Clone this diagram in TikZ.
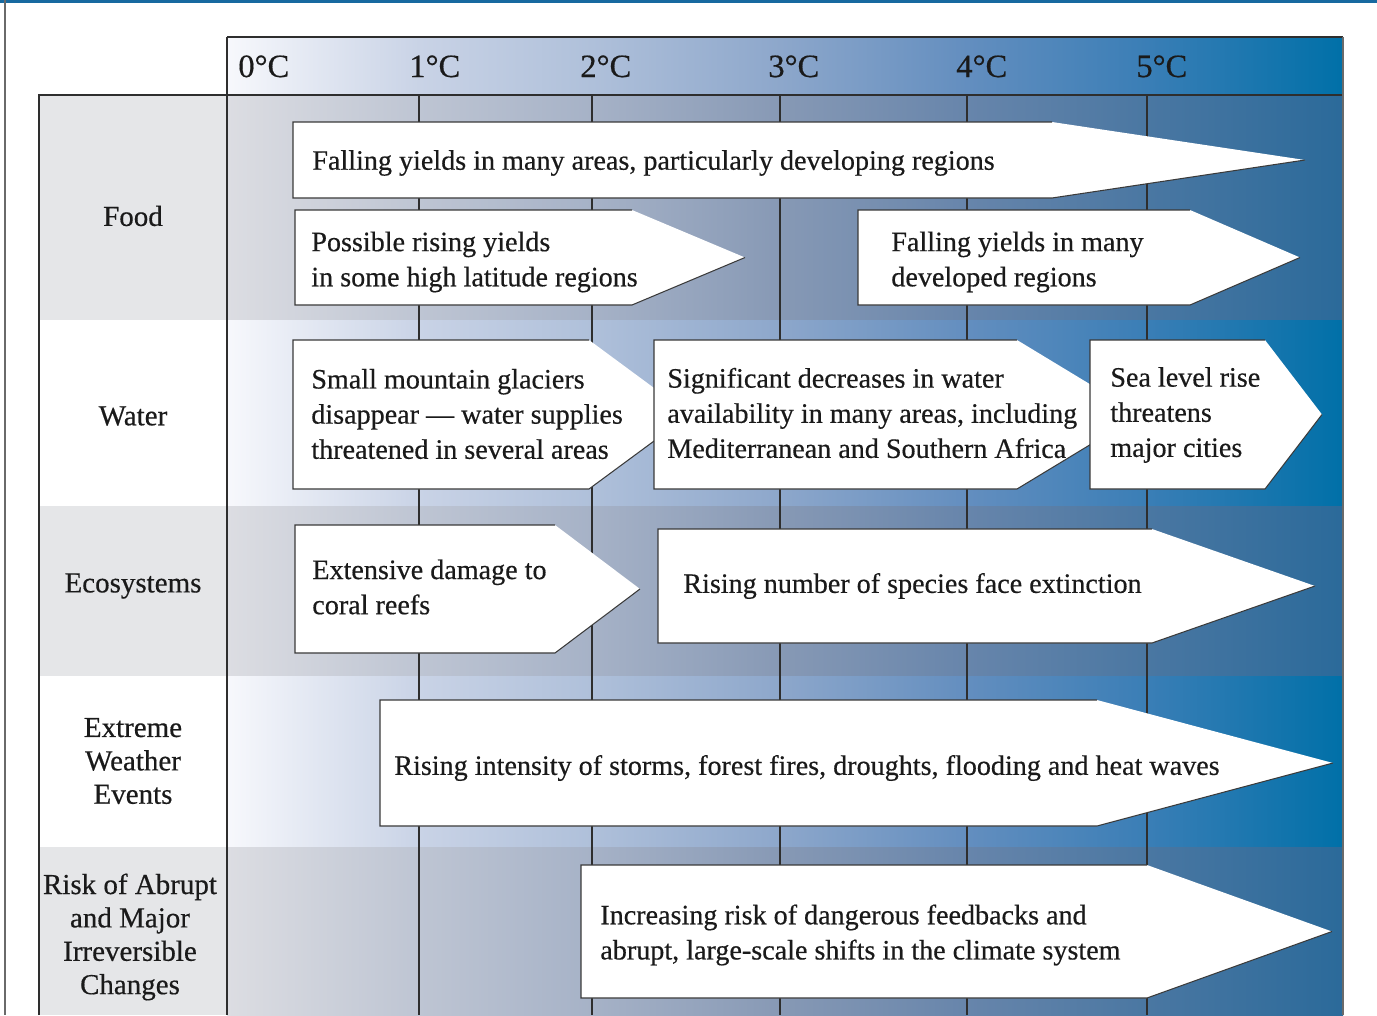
\documentclass[tikz,border=0pt]{standalone}
\usepackage{fontspec}
\setmainfont{Liberation Serif}[FakeBold=0.45]

\definecolor{inkblack}{HTML}{1A1A1A}
\definecolor{gridgray}{HTML}{2E2E2E}
\definecolor{edgegray}{HTML}{3A3A3A}
\definecolor{framegray}{HTML}{6A6A6A}
\definecolor{topblue}{HTML}{1769A0}
\definecolor{labelgray}{HTML}{E5E6E8}
% light band (header and white rows)
\definecolor{bandA}{HTML}{F7F8FC}
\definecolor{bandB}{HTML}{C9D3E6}
\definecolor{bandC}{HTML}{AFC0DA}
\definecolor{bandD}{HTML}{8DA7CB}
\definecolor{bandE}{HTML}{638EBF}
\definecolor{bandF}{HTML}{3A7EB6}
\definecolor{bandG}{HTML}{0070A8}
% grey band
\definecolor{greyA}{HTML}{DCDDE2}
\definecolor{greyB}{HTML}{BEC5D3}
\definecolor{greyC}{HTML}{A6B2C7}
\definecolor{greyD}{HTML}{8799B5}
\definecolor{greyE}{HTML}{6785AB}
\definecolor{greyF}{HTML}{4A77A2}
\definecolor{greyG}{HTML}{2B6A9A}

\pgfdeclarehorizontalshading{blueband}{100bp}{color(0bp)=(bandA); color(25bp)=(bandA);
  color(33.6bp)=(bandB); color(41.35bp)=(bandC); color(49.78bp)=(bandD);
  color(58.15bp)=(bandE); color(66.22bp)=(bandF); color(75bp)=(bandG); color(100bp)=(bandG)}
\pgfdeclarehorizontalshading{greyband}{100bp}{color(0bp)=(greyA); color(25bp)=(greyA);
  color(33.6bp)=(greyB); color(41.35bp)=(greyC); color(49.78bp)=(greyD);
  color(58.15bp)=(greyE); color(66.22bp)=(greyF); color(75bp)=(greyG); color(100bp)=(greyG)}

\tikzset{
  gridline/.style={draw=gridgray, line width=0.7pt},
  arrowline/.style={draw=edgegray, line width=0.6pt},
  arrowtext/.style={anchor=west, align=left, inner sep=0pt,
    font=\fontsize{16}{20}\selectfont, text=inkblack},
  rowlabel/.style={align=center, inner sep=0pt,
    font=\fontsize{16.5}{19}\selectfont, text=inkblack},
  templabel/.style={anchor=base west, inner sep=0pt,
    font=\fontsize{18.5}{22}\selectfont, text=inkblack}
}

% name, left x, head x, top y, bottom y, tip x, text position, text
\newcommand{\heatarrow}[8]{%
  \fill[white] (#2,#4) -- (#3,#4) -- (#6,{(#4+#5)/2}) -- (#3,#5) -- (#2,#5) -- cycle;
  \draw[arrowline] (#3,#4) -- (#2,#4) -- (#2,#5) -- (#3,#5) -- (#6,{(#4+#5)/2});
  \node[arrowtext] (#1) at (#7) {#8};
}

\begin{document}
\begin{tikzpicture}[x=0.02cm, y=-0.02cm]
    \useasboundingbox (0,0) rectangle (1377,1015);
    \fill[white] (0,0) rectangle (1377,1015);
    \fill[topblue] (0,0) rectangle (1377,2.5);
    \draw[framegray, line width=1.1pt] (5,0) -- (5,1015);

    % label column
    \fill[labelgray] (39,95) rectangle (227,320);
    \fill[labelgray] (39,506) rectangle (227,676);
    \fill[labelgray] (39,847) rectangle (227,1015);

    % bands
    \shade[shading=blueband] (227,37) rectangle (1343,95);
    \shade[shading=greyband] (227,95) rectangle (1343,320);
    \shade[shading=blueband] (227,320) rectangle (1343,506);
    \shade[shading=greyband] (227,506) rectangle (1343,676);
    \shade[shading=blueband] (227,676) rectangle (1343,847);
    \shade[shading=greyband] (227,847) rectangle (1343,1015);

    \foreach \x in {419,592,780,967,1147}
        \draw[gridline] (\x,95) -- (\x,1015);
    \draw[gridline] (227,37) -- (227,1015);
    \draw[gridline] (39,1015) -- (39,95) -- (1343,95);
    \draw[gridline] (227,37) -- (1343,37);
    \draw[framegray, line width=0.8pt] (1343,37) -- (1343,1015);

    \foreach \t/\x in {0/238,1/409,2/580,3/768,4/956,5/1136}
        \node[templabel] (t\t) at (\x,77) {\t°C};

    \node[rowlabel] (food) at (133,216) {Food};
    \node[rowlabel] (water) at (133,416) {Water};
    \node[rowlabel] (eco) at (133,586) {Ecosystems};
    \node[rowlabel] (weather) at (133,761) {Extreme\\Weather\\Events};
    \node[rowlabel] (risk) at (130,937) {Risk of Abrupt\\and Major\\Irreversible\\Changes};

    \heatarrow{foodA}{293}{1052}{122}{198}{1305}{312,163}{Falling yields in many areas, particularly developing regions}
    \heatarrow{foodB}{295}{632}{210}{305}{745}{311,262}{Possible rising yields\\in some high latitude regions}
    \heatarrow{foodC}{858}{1190}{210}{305}{1300}{891,262}{Falling yields in many\\developed regions}
    \heatarrow{waterA}{293}{589}{340}{489}{690}{311,414}{Small mountain glaciers\\disappear --- water supplies\\threatened in several areas}
    \heatarrow{waterB}{654}{1017}{340}{489}{1140}{667,413}{Significant decreases in water\\availability in many areas, including\\Mediterranean and Southern Africa}
    \heatarrow{waterC}{1090}{1265}{340}{489}{1322}{1110,415}{Sea level rise\\threatens\\major cities}
    \heatarrow{ecoA}{295}{555}{525}{653}{640}{312,587}{Extensive damage to\\coral reefs}
    \heatarrow{ecoB}{658}{1152}{529}{643}{1315}{683,586}{Rising number of species face extinction}
    \heatarrow{weatherA}{380}{1097}{700}{826}{1333}{394,768}{Rising intensity of storms, forest fires, droughts, flooding and heat waves}
    \heatarrow{riskA}{581}{1147}{865}{998}{1332}{600,935}{Increasing risk of dangerous feedbacks and\\abrupt, large-scale shifts in the climate system}
\end{tikzpicture}
\end{document}
